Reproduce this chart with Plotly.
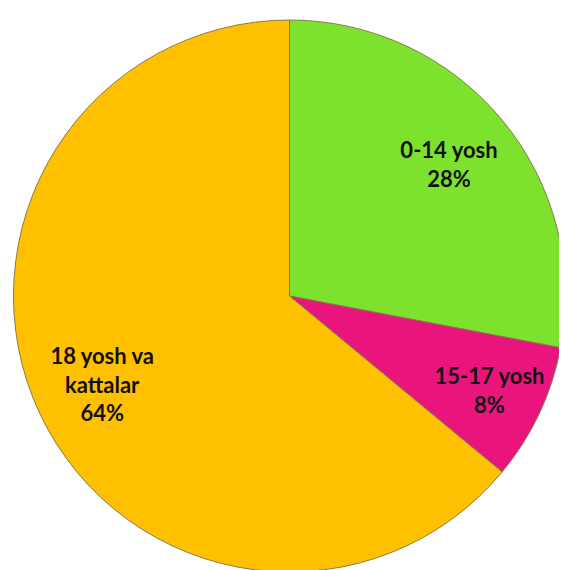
import plotly.graph_objects as go

labels = ['0-14 yosh', '15-17 yosh', '18 yosh va kattalar']
label_lines = ['0-14 yosh', '15-17 yosh', '18 yosh va<br>kattalar']
values = [28, 8, 64]
colors = ['#7DE22E', '#EA157C', '#FFC000']

# body margin shifts the plot a few px, so the domain is nudged up/left
dom = dict(x=[4 / 567, 559 / 567], y=[6 / 570, 558 / 570])

fig = go.Figure()
fig.add_trace(go.Pie(
    labels=labels,
    values=values,
    sort=False,
    direction='clockwise',
    rotation=0,
    marker=dict(colors=colors, line=dict(color='#8a7a4a', width=1)),
    textinfo='none',
    hoverinfo='label+percent',
    domain=dom,
    showlegend=False,
))
# transparent ring on top just to push the labels out toward the rim
fig.add_trace(go.Pie(
    labels=labels,
    values=values,
    text=label_lines,
    sort=False,
    direction='clockwise',
    rotation=0,
    hole=0.5,
    marker=dict(colors=['rgba(0,0,0,0)'] * 3, line=dict(width=0)),
    texttemplate='<b>%{text}<br>%{percent:.0%}</b>',
    textposition='inside',
    insidetextorientation='horizontal',
    textfont=dict(family='Lato', size=22, color='#111111'),
    hoverinfo='skip',
    domain=dom,
    showlegend=False,
))

fig.update_layout(
    width=567,
    height=570,
    margin=dict(l=0, r=0, t=0, b=0),
    paper_bgcolor='white',
    plot_bgcolor='white',
    uniformtext=dict(mode='show', minsize=22),
)

fig.write_html('out.html')
